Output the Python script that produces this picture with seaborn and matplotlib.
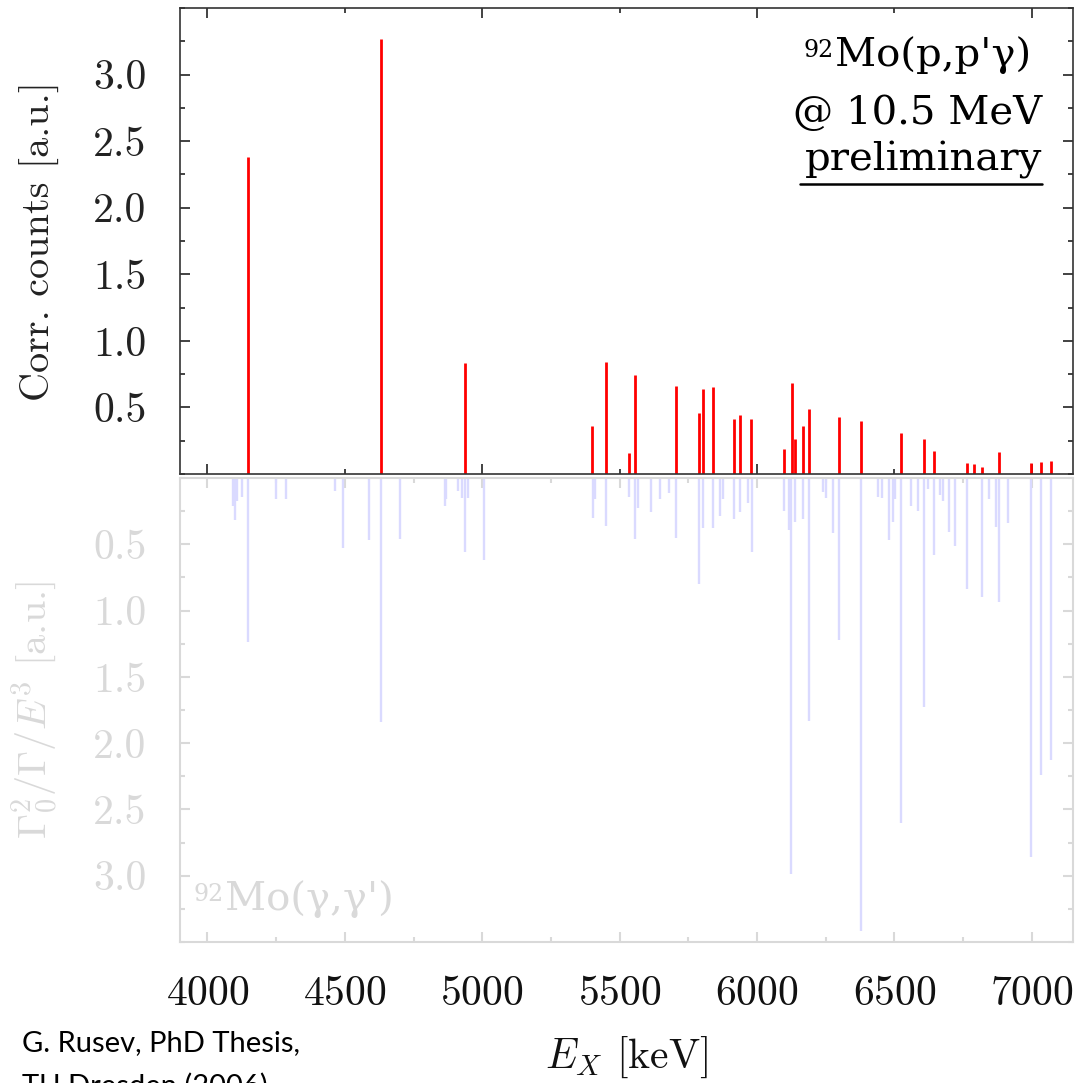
import matplotlib
matplotlib.use("Agg")
import matplotlib.pyplot as plt
import seaborn as sns
from matplotlib.ticker import MultipleLocator, FormatStrFormatter

# -------------------------------
# data
# -------------------------------
# 92Mo(p,p'gamma) : level energy [keV] and corrected counts [a.u.]
E_pp = [4148, 4633, 4936, 5401, 5451, 5533, 5555, 5704, 5788, 5802, 5841,
        5918, 5939, 5979, 6097, 6126, 6139, 6167, 6191, 6300, 6378, 6525,
        6607, 6644, 6763, 6789, 6818, 6882, 6996, 7032, 7069]
I_pp = [2.38, 3.27, 0.83, 0.36, 0.84, 0.16, 0.74, 0.66, 0.46, 0.635, 0.65,
        0.41, 0.44, 0.415, 0.19, 0.68, 0.265, 0.36, 0.49, 0.43, 0.40, 0.31,
        0.265, 0.17, 0.084, 0.074, 0.054, 0.165, 0.084, 0.09, 0.10]

# 92Mo(gamma,gamma') : level energy [keV] and Gamma0^2/Gamma/E^3 [a.u.]
E_gg = [4093, 4101, 4109, 4125, 4148, 4248, 4287, 4465, 4495, 4589,
        4633, 4702, 4863, 4868, 4910, 4927, 4936, 4947, 5005, 5403,
        5412, 5450, 5533, 5555, 5567, 5615, 5648, 5679, 5704, 5788,
        5802, 5841, 5867, 5878, 5918, 5939, 5966, 5980, 6097, 6115,
        6125, 6139, 6167, 6191, 6239, 6250, 6276, 6300, 6378, 6439,
        6456, 6481, 6495, 6504, 6525, 6560, 6587, 6607, 6621, 6644,
        6667, 6676, 6698, 6719, 6763, 6818, 6845, 6871, 6882, 6913,
        6996, 7033, 7069]
D_gg = [0.21, 0.32, 0.175, 0.14, 1.235, 0.155, 0.155, 0.10, 0.53, 0.47,
        1.84, 0.46, 0.21, 0.16, 0.10, 0.15, 0.56, 0.15, 0.615, 0.30,
        0.155, 0.36, 0.14, 0.46, 0.225, 0.26, 0.16, 0.11, 0.45, 0.80,
        0.38, 0.375, 0.29, 0.16, 0.31, 0.255, 0.19, 0.56, 0.25, 0.39,
        2.99, 0.33, 0.31, 1.83, 0.105, 0.15, 0.415, 1.225, 3.42, 0.14,
        0.15, 0.47, 0.33, 0.155, 2.605, 0.21, 0.25, 1.73, 0.08, 0.58,
        0.125, 0.17, 0.41, 0.51, 0.835, 0.90, 0.16, 0.37, 0.935, 0.34,
        2.86, 2.24, 2.13]

y_ticks = [0.5, 1.0, 1.5, 2.0, 2.5, 3.0]
x_ticks = [4000, 4500, 5000, 5500, 6000, 6500, 7000]

# -------------------------------
# style
# -------------------------------
sns.set_theme(style="white")
plt.rcParams['font.family'] = ['cmr10']
plt.rcParams['mathtext.fontset'] = 'cm'
plt.rcParams['axes.formatter.use_mathtext'] = True

GRAY = '#d9d9d9'
RED = '#ff0000'
BLUE = '#dadaff'

W, H = 1075, 1083
fig = plt.figure(figsize=(W / 100, H / 100), dpi=100)
ax1 = fig.add_axes([180 / W, 1 - 474 / H, 893 / W, 466 / H])
ax2 = fig.add_axes([180 / W, 1 - 942 / H, 893 / W, 464 / H])

# -------------------------------
# top: (p,p'gamma)
# -------------------------------
ax1.vlines(E_pp, 0, I_pp, color=RED, lw=2.0)
ax1.set_xlim(3900, 7150)
ax1.set_ylim(0, 3.5)
ax1.set_yticks(y_ticks)
ax1.yaxis.set_minor_locator(MultipleLocator(0.25))
ax1.yaxis.set_major_formatter(FormatStrFormatter('%.1f'))
ax1.xaxis.set_major_locator(MultipleLocator(1000))
ax1.xaxis.set_minor_locator(MultipleLocator(500))
ax1.tick_params(which='both', direction='in', top=True, right=True,
                bottom=True, left=True, labelbottom=False, color='#222222',
                width=1.2)
ax1.tick_params(which='major', length=7)
ax1.tick_params(which='minor', length=3.5)
ax1.tick_params(axis='y', labelsize=30, pad=24, labelcolor='#222222')
for s in ax1.spines.values():
    s.set_color('#333333')
    s.set_linewidth(1.2)
ax1.set_ylabel('Corr. counts [a.u.]', fontsize=29, color='#222222')
ax1.yaxis.set_label_coords(-0.134, 0.5)

# -------------------------------
# bottom: (gamma,gamma')
# -------------------------------
ax2.vlines(E_gg, 0, D_gg, color=BLUE, lw=1.7)
ax2.set_xlim(3900, 7150)
ax2.set_ylim(3.5, 0)
ax2.set_yticks(y_ticks)
ax2.yaxis.set_minor_locator(MultipleLocator(0.25))
ax2.yaxis.set_major_formatter(FormatStrFormatter('%.1f'))
ax2.set_xticks(x_ticks)
ax2.xaxis.set_minor_locator(MultipleLocator(250))
ax2.tick_params(which='both', direction='in', top=True, right=True,
                bottom=True, left=True, color=GRAY, width=1.5)
ax2.tick_params(which='major', length=7)
ax2.tick_params(which='minor', length=3.5)
ax2.tick_params(axis='y', labelsize=30, pad=24, labelcolor=GRAY)
ax2.tick_params(axis='x', labelsize=30, pad=24, labelcolor='#111111')
for s in ax2.spines.values():
    s.set_color(GRAY)
    s.set_linewidth(1.5)
ax2.set_ylabel(r'$\Gamma_0^2/\Gamma/E^3$ [a.u.]', fontsize=29, color=GRAY)
ax2.yaxis.set_label_coords(-0.134, 0.5)
ax2.set_xlabel(r'$E_X$ [keV]', fontsize=30, color='#111111')
ax2.xaxis.set_label_coords(0.5, -0.2)

# -------------------------------
# annotations
# -------------------------------
def px(x, y):
    return x / W, 1 - y / H

serif = ['DejaVu Serif']
t1 = fig.text(*px(1031, 66), "Mo(p,p'γ)", family=serif, fontsize=29,
              ha='right', va='baseline', color='black')
ax1.annotate("92", xy=(0, 1), xycoords=t1, xytext=(-1, -2),
             textcoords='offset points', family=serif, fontsize=17,
             ha='right', va='top', color='black', annotation_clip=False)
fig.text(*px(1042, 124), "@ 10.5 MeV", family=serif, fontsize=29,
         ha='right', va='baseline', color='black')
fig.text(*px(1042, 170), "preliminary", family=serif, fontsize=29,
         ha='right', va='baseline', color='black')
fig.add_artist(plt.Line2D([800 / W, 1042 / W], [1 - 184 / H, 1 - 184 / H],
                          color='black', lw=1.8))

t2 = fig.text(*px(225, 910), "Mo(γ,γ')", family=serif, fontsize=29,
              ha='left', va='baseline', color=GRAY)
ax2.annotate("92", xy=(0, 1), xycoords=t2, xytext=(-1, -2),
             textcoords='offset points', family=serif, fontsize=17,
             ha='right', va='top', color=GRAY, annotation_clip=False)

fig.text(*px(22, 1030), "G. Rusev, PhD Thesis,\nTU Dresden (2006)",
         family=['Lato', 'DejaVu Sans'], fontsize=21, ha='left', va='top',
         linespacing=1.75, color='black')

fig.savefig('out.png', dpi=100)
